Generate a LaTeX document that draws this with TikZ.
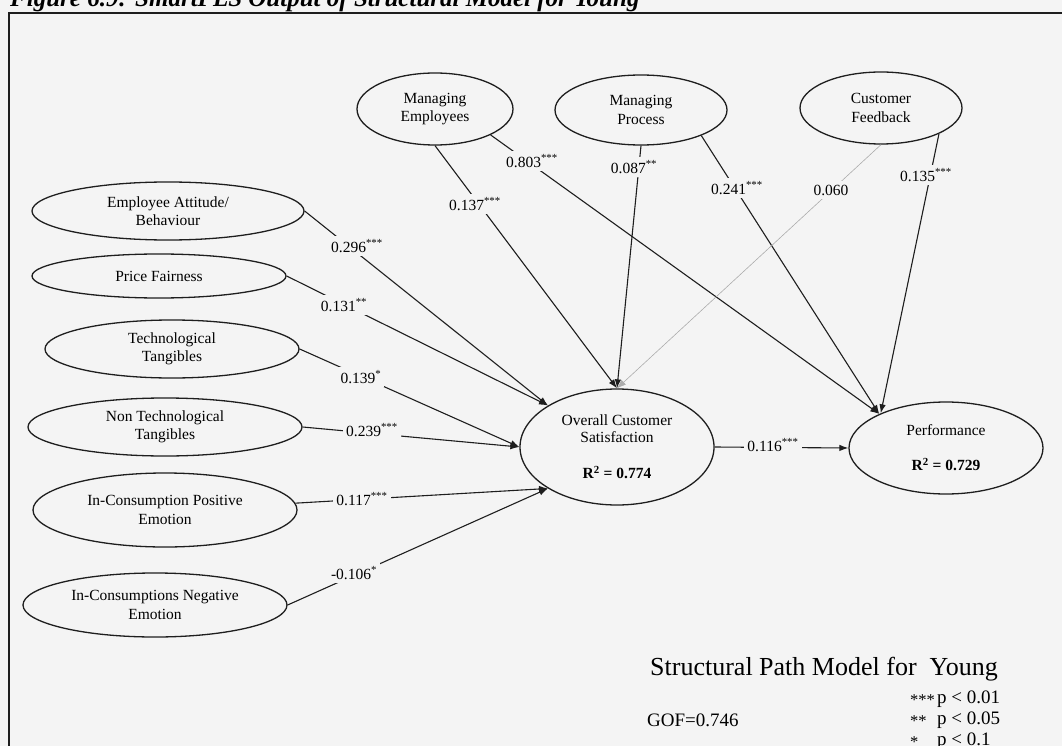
\documentclass[tikz,border=0pt]{standalone}
\usepackage{fontspec}
\setmainfont{Liberation Serif}
\usetikzlibrary{shapes.geometric,arrows.meta}
\definecolor{paper}{RGB}{244,244,244}
\definecolor{ink}{RGB}{30,30,30}
\newcommand{\sigstars}[1]{\makebox[27pt][l]{\raisebox{-2.5pt}{\fontsize{16.5}{20}\selectfont #1}}}
\begin{document}
\begin{tikzpicture}[x=1pt,y=-1pt,
  lv/.style={ellipse,draw=ink,line width=1.3pt,inner sep=0pt,align=center,
    font=\fontsize{15.5}{18.5}\selectfont},
  pathline/.style={draw=ink,line width=1.1pt,-{Latex[length=9pt,width=6.5pt]}},
  weakline/.style={draw=gray!65,line width=0.6pt,-{Latex[length=9pt,width=6.5pt]}},
  coef/.style={fill=paper,inner xsep=3pt,inner ysep=4pt,font=\fontsize{15.5}{18}\selectfont},
  legend/.style={inner sep=0pt,font=\fontsize{19}{22}\selectfont},
]
\useasboundingbox (0,0) rectangle (1062,746);
\clip (0,0) rectangle (1062,746);
\fill[paper] (0,0) rectangle (1062,746);

% caption above the frame
\node[anchor=base west,inner sep=0pt,font=\fontsize{25}{30}\selectfont\bfseries\itshape]
  (caption) at (10,7) {Figure 6.9: SmartPLS Output of Structural Model for Young};
\draw[ink,line width=2pt] (9,760) -- (9,13) -- (1070,13);

% exogenous constructs (left column)
\node[lv,minimum width=272pt,minimum height=58pt] (eab)  at (168,211) {Employee Attitude/\\Behaviour};
\node[lv,minimum width=254pt,minimum height=44pt] (pf)   at (159,276) {Price Fairness};
\node[lv,minimum width=254pt,minimum height=58pt] (tt)   at (172,349) {Technological\\Tangibles};
\node[lv,minimum width=274pt,minimum height=58pt] (ntt)  at (165,427) {Non Technological\\Tangibles};
\node[lv,minimum width=264pt,minimum height=74pt] (icpe) at (165,510) {In-Consumption Positive\\Emotion};
\node[lv,minimum width=264pt,minimum height=64pt] (icne) at (155,605) {In-Consumptions Negative\\Emotion};

% management constructs (top row)
\node[lv,minimum width=156pt,minimum height=72pt] (me) at (435,109) {Managing\\Employees};
\node[lv,minimum width=172pt,minimum height=70pt] (mp) at (641,110) {Managing\\Process};
\node[lv,minimum width=162pt,minimum height=72pt] (cf) at (881,108) {Customer\\Feedback};

% endogenous constructs
\node[lv,minimum width=194pt,minimum height=116pt] (ocs) at (617,447)
  {Overall Customer\\[-2pt]Satisfaction\\[18pt]\textbf{R\textsuperscript{2} = 0.774}};
\node[lv,minimum width=194pt,minimum height=92pt] (perf) at (946,448)
  {Performance\\[16.5pt]\textbf{R\textsuperscript{2} = 0.729}};

% structural paths
\draw[pathline] (eab.east)  -- (ocs.149);
\draw[pathline] (pf.east)   -- (ocs.149);
\draw[pathline] (tt.east)   -- (ocs.west);
\draw[pathline] (ntt.east)  -- (ocs.west);
\draw[pathline] (icpe.3)    -- (ocs.211);
\draw[pathline] (icne.east) -- (ocs.211);
\draw[pathline] (me.south)  -- (ocs.north);
\draw[pathline] (me.-25)    -- (perf.153);
\draw[pathline] (mp.south)  -- (ocs.north);
\draw[pathline] (mp.-23)    -- (perf.153);
\draw[weakline] (cf.south)  -- (ocs.north);
\draw[pathline] (cf.-24)    -- (perf.152);
\draw[pathline] (ocs.east)  -- (perf.west);

% path coefficients
\node[coef] (k1)  at (357,246) {0.296\textsuperscript{***}};
\node[coef] (k2)  at (344,305) {0.131\textsuperscript{**}};
\node[coef] (k3)  at (361,377) {0.139\textsuperscript{*}};
\node[coef] (k4)  at (372,430) {0.239\textsuperscript{***}};
\node[coef] (k5)  at (362,499) {0.117\textsuperscript{***}};
\node[coef] (k6)  at (354,573) {-0.106\textsuperscript{*}};
\node[coef] (k7)  at (475,204) {0.137\textsuperscript{***}};
\node[coef] (k8)  at (532,161) {0.803\textsuperscript{***}};
\node[coef] (k9)  at (634,167) {0.087\textsuperscript{**}};
\node[coef] (k10) at (737,188) {0.241\textsuperscript{***}};
\node[coef] (k11) at (831,190) {0.060};
\node[coef] (k12) at (926,175) {0.135\textsuperscript{***}};
\node[coef] (k13) at (773,445) {0.116\textsuperscript{***}};

% model title and legend
\node[anchor=base,inner sep=0pt,font=\fontsize{26}{30}\selectfont] (mtitle) at (824,675)
  {Structural Path Model for\ \ Young};
\node[legend,anchor=base west] (gof) at (647,726) {GOF=0.746};
\node[legend,anchor=base west] (s1) at (910,703) {\sigstars{***}p < 0.01};
\node[legend,anchor=base west] (s2) at (910,724) {\sigstars{**}p < 0.05};
\node[legend,anchor=base west] (s3) at (910,745) {\sigstars{*}p < 0.1};
\end{tikzpicture}
\end{document}
